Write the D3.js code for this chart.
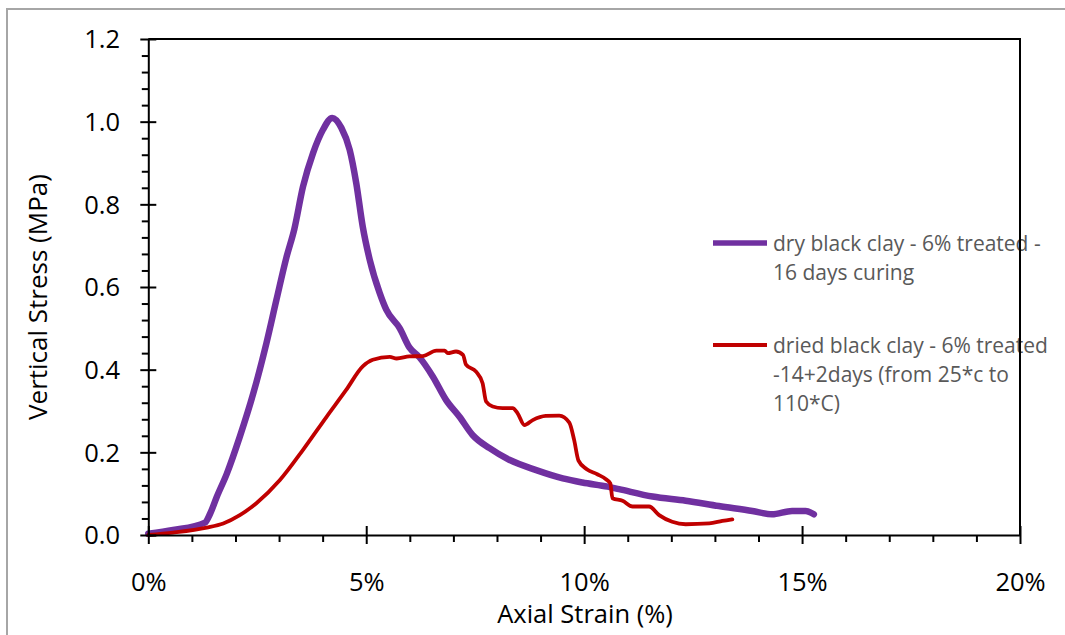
<!DOCTYPE html>
<html>
<head>
<meta charset="utf-8">
<script src="https://cdn.jsdelivr.net/npm/d3@7"></script>
<style>
    body { margin: 0; background: #fff; }
    text { font-family: "Open Sans", sans-serif; }
</style>
</head>
<body>
<svg id="chart" width="1065" height="635"></svg>
<script>
// Data (strain in %, stress in MPa)

const dryStrain = [0, 0.57, 1.30, 1.42, 1.57, 1.80, 2.10, 2.41, 2.71, 2.94, 3.17, 3.35, 3.55, 3.78, 4.01, 4.22, 4.43, 4.62, 4.77, 4.92, 5.08, 5.31, 5.46, 5.77, 5.99, 6.22, 6.53, 6.83, 7.14, 7.44, 7.83, 8.28, 8.90, 9.51, 9.96, 10.54, 10.80, 11.57, 12.33, 13.09, 13.86, 14.31, 14.77, 15.08, 15.27];
const dryStress = [0.003, 0.012, 0.030, 0.052, 0.092, 0.148, 0.238, 0.343, 0.464, 0.569, 0.672, 0.740, 0.843, 0.924, 0.981, 1.009, 0.985, 0.932, 0.852, 0.746, 0.666, 0.585, 0.545, 0.500, 0.454, 0.430, 0.383, 0.327, 0.286, 0.242, 0.210, 0.182, 0.157, 0.137, 0.127, 0.117, 0.111, 0.093, 0.083, 0.070, 0.058, 0.050, 0.058, 0.058, 0.050];

const driedStrain = [0, 0.57, 1.34, 1.72, 2.10, 2.48, 3.02, 3.55, 4.09, 4.54, 4.92, 5.15, 5.54, 5.70, 5.99, 6.30, 6.61, 6.80, 6.87, 7.06, 7.22, 7.29, 7.52, 7.67, 7.75, 7.90, 8.13, 8.36, 8.47, 8.63, 8.82, 9.12, 9.43, 9.66, 9.77, 9.87, 10.06, 10.30, 10.50, 10.60, 10.65, 10.88, 11.11, 11.49, 11.72, 12.02, 12.33, 12.87, 13.17, 13.40];
const driedStress = [0, 0.006, 0.018, 0.028, 0.048, 0.077, 0.133, 0.206, 0.286, 0.351, 0.408, 0.424, 0.431, 0.427, 0.432, 0.433, 0.446, 0.446, 0.440, 0.444, 0.436, 0.412, 0.395, 0.367, 0.323, 0.311, 0.307, 0.307, 0.295, 0.266, 0.278, 0.288, 0.289, 0.272, 0.230, 0.180, 0.159, 0.147, 0.135, 0.125, 0.089, 0.083, 0.069, 0.069, 0.048, 0.032, 0.026, 0.028, 0.034, 0.038];

const seriesNames = [
    ["dry black clay - 6% treated -", "16 days curing"],
    ["dried black clay - 6% treated", "-14+2days (from 25*c to", "110*C)"]
];
const xTicks = [0, 5, 10, 15, 20];
const yTicks = [0, 0.2, 0.4, 0.6, 0.8, 1.0, 1.2];

// Setup

const svg = d3.select("svg#chart");

svg.append("rect")
    .attr("width", 1065)
    .attr("height", 635)
    .attr("fill", "#fff");

// outer chart border (runs off right and bottom)
svg.append("rect")
    .attr("x", 7)
    .attr("y", 9)
    .attr("width", 1100)
    .attr("height", 700)
    .attr("fill", "none")
    .attr("stroke", "#a6a6a6")
    .attr("stroke-width", 2);

const x = d3.scaleLinear().domain([0, 20]).range([148.3, 1020]);
const y = d3.scaleLinear().domain([0, 1.2]).range([535, 39]);

// Lines

const line = d3.line()
    .x(d => x(d[0]))
    .y(d => y(d[1]))
    .curve(d3.curveMonotoneX);

const series = [
    { pts: d3.zip(dryStrain, dryStress), color: "#7030a0", width: 6.5 },
    { pts: d3.zip(driedStrain, driedStress), color: "#c00000", width: 3.8 }
];

series.forEach(s => {
    svg.append("path")
        .datum(s.pts)
        .attr("fill", "none")
        .attr("stroke", s.color)
        .attr("stroke-width", s.width)
        .attr("stroke-linejoin", "round")
        .attr("stroke-linecap", "round")
        .attr("d", line);
});

// Legend

const legendY = [243, 345];
series.forEach((s, i) => {
    svg.append("line")
        .attr("x1", 713).attr("x2", 767)
        .attr("y1", legendY[i]).attr("y2", legendY[i])
        .attr("stroke", s.color)
        .attr("stroke-width", i === 0 ? 5.5 : 3.8);

    const t = svg.append("text")
        .attr("x", 773)
        .attr("y", legendY[i] + 7.5)
        .style("font-size", "21px")
        .attr("fill", "#595959");
    seriesNames[i].forEach((ln, j) => {
        t.append("tspan")
            .attr("x", 773)
            .attr("dy", j === 0 ? 0 : 29)
            .text(ln);
    });
});

// Frame (top and right)

svg.append("path")
    .attr("d", `M${x(0)},${y(1.2)}H${x(20)}V${y(0)}`)
    .attr("fill", "none")
    .attr("stroke", "#000")
    .attr("stroke-width", 2);

// Axes

const yMinor = d3.range(0, 1.2001, 0.04).filter(v => Math.abs(v / 0.2 - Math.round(v / 0.2)) > 1e-6);
const xMinor = d3.range(0, 20.001, 1).filter(v => v % 5 !== 0);

svg.append("g")
    .attr("transform", `translate(${x(0)},0)`)
    .call(d3.axisLeft(y).tickValues(yMinor).tickSize(6.5).tickFormat(""))
    .call(g => g.select(".domain").remove())
    .selectAll("line").attr("stroke-width", 2);

svg.append("g")
    .attr("transform", `translate(0,${y(0)})`)
    .call(d3.axisBottom(x).tickValues(xMinor).tickSize(7).tickFormat(""))
    .call(g => g.select(".domain").remove())
    .selectAll("line").attr("stroke-width", 2);

const yAxis = svg.append("g")
    .attr("transform", `translate(${x(0)},0)`)
    .call(d3.axisLeft(y).tickValues(yTicks).tickSize(8).tickSizeOuter(0).tickFormat(d3.format(".1f")));
yAxis.select(".domain").attr("stroke-width", 2);
yAxis.selectAll(".tick line").attr("x1", 8).attr("stroke-width", 2);
yAxis.selectAll(".tick text")
    .attr("x", -28.3)
    .attr("dy", "0.35em")
    .style("font-family", "Open Sans, sans-serif")
    .style("font-size", "25.5px")
    .attr("fill", "#000");

const xAxis = svg.append("g")
    .attr("transform", `translate(0,${y(0)})`)
    .call(d3.axisBottom(x).tickValues(xTicks).tickSize(9).tickSizeOuter(0).tickFormat(d => d + "%"));
xAxis.select(".domain").attr("stroke-width", 2);
xAxis.selectAll(".tick line").attr("y1", -9).attr("stroke-width", 2);
xAxis.selectAll(".tick text")
    .attr("y", 55.5)
    .attr("dy", 0)
    .style("font-family", "Open Sans, sans-serif")
    .style("font-size", "25.5px")
    .attr("fill", "#000");

// Axis titles

svg.append("text")
    .attr("x", 585)
    .attr("y", 623)
    .attr("text-anchor", "middle")
    .style("font-size", "25.5px")
    .text("Axial Strain (%)");

svg.append("text")
    .attr("transform", "translate(47,297) rotate(-90)")
    .attr("text-anchor", "middle")
    .style("font-size", "26px")
    .text("Vertical Stress (MPa)");
</script>
</body>
</html>
